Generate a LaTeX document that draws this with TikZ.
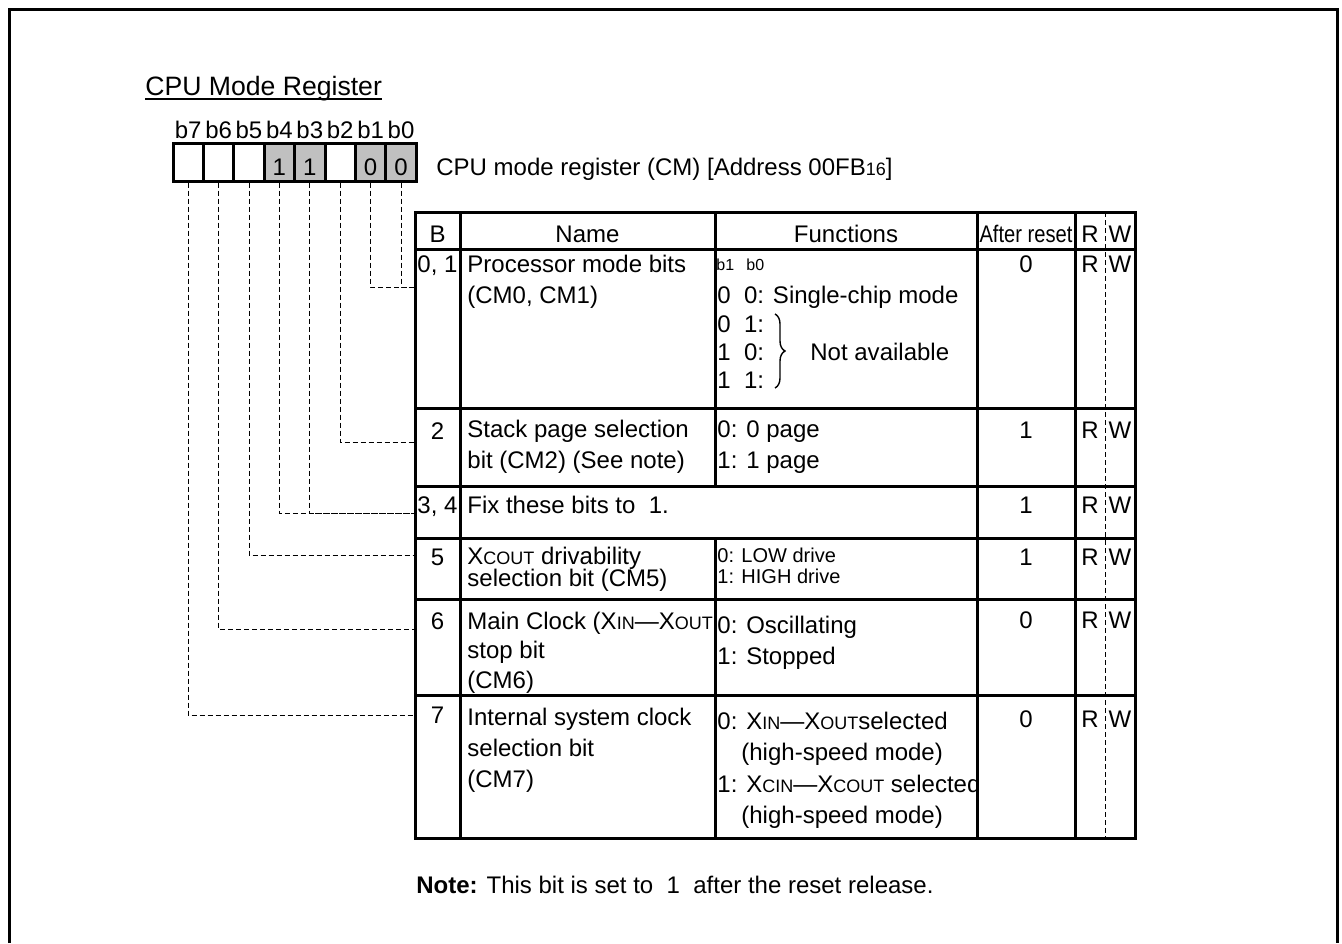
\documentclass[tikz,border=0pt]{standalone}
\usepackage{fontspec}
\setmainfont{Liberation Sans}
\usepackage{graphicx}
\usetikzlibrary{decorations.pathreplacing}
\definecolor{regfill}{RGB}{192,192,192}
\newcommand{\smc}[1]{{\fontsize{9pt}{9pt}\selectfont #1}}

\begin{document}
\begin{tikzpicture}[x=0.5pt, y=-0.5pt,
    every node/.style={font=\fontsize{12pt}{14pt}\selectfont, inner sep=0pt},
    bitbox/.style={draw, line width=1.5pt, minimum width=15.2pt, minimum height=19pt, text height=13pt, text depth=0pt},
    bitset/.style={bitbox, fill=regfill},
    bitlab/.style={anchor=base, yshift=1.5pt},
    grid/.style={line width=1.5pt},
    conn/.style={line width=0.5pt, dash pattern=on 2.5pt off 1.5pt},
    txt/.style={anchor=base west},
    ctr/.style={anchor=base},
    small/.style={anchor=base west, font=\fontsize{8pt}{9pt}\selectfont},
    tight/.style={anchor=base west, font=\fontsize{10pt}{11pt}\selectfont}]
    %--------------------%
    % Parameters
    %--------------------%
    \def\bitx{188.2}
    \def\bitw{30.4}
    \def\bity{162}
    \def\colB{437.5}
    \def\colN{467}
    \def\colF{717}
    \def\colA{1026}
    \def\colR{1090}
    \def\colW{1120}

    \useasboundingbox (0,0) rectangle (1342,943);

    %--------------------%
    % Frame and title
    %--------------------%
    \draw[line width=1.5pt] (9,943) -- (9,9) -- (1337,9) -- (1337,943);
    \node[txt, font=\fontsize{13.3pt}{15pt}\selectfont] (title) at (145,95) {CPU Mode Register};
    \draw[line width=0.75pt] ([yshift=-2pt]title.base west) -- ([yshift=-2pt]title.base east);

    %--------------------%
    % Register bits
    %--------------------%
    \node[bitbox, label={[bitlab]north:b7}] (b7) at (\bitx+0*\bitw,\bity) {};
    \node[bitbox, label={[bitlab]north:b6}] (b6) at (\bitx+1*\bitw,\bity) {};
    \node[bitbox, label={[bitlab]north:b5}] (b5) at (\bitx+2*\bitw,\bity) {};
    \node[bitset, label={[bitlab]north:b4}] (b4) at (\bitx+3*\bitw,\bity) {1};
    \node[bitset, label={[bitlab]north:b3}] (b3) at (\bitx+4*\bitw,\bity) {1};
    \node[bitbox, label={[bitlab]north:b2}] (b2) at (\bitx+5*\bitw,\bity) {};
    \node[bitset, label={[bitlab]north:b1}] (b1) at (\bitx+6*\bitw,\bity) {0};
    \node[bitset, label={[bitlab]north:b0}] (b0) at (\bitx+7*\bitw,\bity) {0};

    \node[txt] (regname) at (436,175) {CPU mode register (CM) [Address 00FB\smc{16}]};

    %--------------------%
    % Table grid
    %--------------------%
    \draw[grid] (415,212) rectangle (1135,838);
    \draw[grid] (415,249) -- (1135,249);
    \draw[grid] (415,408) -- (1135,408);
    \draw[grid] (415,486) -- (1135,486);
    \draw[grid] (415,538) -- (1135,538);
    \draw[grid] (415,599) -- (1135,599);
    \draw[grid] (415,695) -- (1135,695);
    \draw[grid] (460,212) -- (460,838);
    \draw[grid] (715,212) -- (715,486);
    \draw[grid] (715,538) -- (715,838);
    \draw[grid] (977,212) -- (977,838);
    \draw[grid] (1075,212) -- (1075,838);
    \draw[conn] (1105,212) -- (1105,838);

    %--------------------%
    % Header
    %--------------------%
    \node[ctr] (hB) at (\colB,242) {B};
    \node[ctr] (hName) at (587.5,242) {Name};
    \node[ctr] (hFunc) at (846,242) {Functions};
    \node[ctr] (hReset) at (\colA,242) {\scalebox{0.84}[1]{After reset}};
    \node[ctr] (hR) at (\colR,242) {R};
    \node[ctr] (hW) at (\colW,242) {W};

    %--------------------%
    % Bits 0, 1
    %--------------------%
    \node[ctr] (bit01) at (\colB,272) {0, 1};
    \node[txt] (name01a) at (\colN,272) {Processor mode bits};
    \node[txt] (name01b) at (\colN,303) {(CM0, CM1)};
    \node[small] (fb1) at (716,270) {b1};
    \node[small] (fb0) at (746,270) {b0};
    \node[txt] (f01a) at (\colF,303) {0\ \ 0: Single-chip mode};
    \node[txt] (f01b) at (\colF,332) {0\ \ 1:};
    \node[txt] (f01c) at (\colF,360) {1\ \ 0:};
    \node[txt] (f01d) at (\colF,388) {1\ \ 1:};
    \draw[line width=0.7pt, decorate, decoration={brace, amplitude=5pt}] (775,314) -- (775,388);
    \node[txt] (f01e) at (810,360) {Not available};
    \node[ctr] (a01) at (\colA,272) {0};
    \node[ctr] (r01) at (\colR,272) {R};
    \node[ctr] (w01) at (\colW,272) {W};

    %--------------------%
    % Bit 2
    %--------------------%
    \node[ctr] (bit2) at (\colB,439) {2};
    \node[txt] (name2a) at (\colN,437) {Stack page selection};
    \node[txt] (name2b) at (\colN,468) {bit (CM2) (See note)};
    \node[txt] (f2a) at (\colF,437) {0: 0 page};
    \node[txt] (f2b) at (\colF,468) {1: 1 page};
    \node[ctr] (a2) at (\colA,438) {1};
    \node[ctr] (r2) at (\colR,438) {R};
    \node[ctr] (w2) at (\colW,438) {W};

    %--------------------%
    % Bits 3, 4
    %--------------------%
    \node[ctr] (bit34) at (\colB,513) {3, 4};
    \node[txt] (name34) at (\colN,513) {Fix these bits to\ \ 1.};
    \node[ctr] (a34) at (\colA,513) {1};
    \node[ctr] (r34) at (\colR,513) {R};
    \node[ctr] (w34) at (\colW,513) {W};

    %--------------------%
    % Bit 5
    %--------------------%
    \node[ctr] (bit5) at (\colB,565) {5};
    \node[txt] (name5a) at (\colN,564) {X\smc{COUT} drivability};
    \node[txt] (name5b) at (\colN,586) {selection bit (CM5)};
    \node[tight] (f5a) at (\colF,562) {0: LOW drive};
    \node[tight] (f5b) at (\colF,583) {1: HIGH drive};
    \node[ctr] (a5) at (\colA,565) {1};
    \node[ctr] (r5) at (\colR,565) {R};
    \node[ctr] (w5) at (\colW,565) {W};

    %--------------------%
    % Bit 6
    %--------------------%
    \node[ctr] (bit6) at (\colB,629) {6};
    \node[txt] (name6a) at (\colN,629) {Main Clock (X\smc{IN}---X\smc{OUT}};
    \node[txt] (name6b) at (\colN,658) {stop bit};
    \node[txt] (name6c) at (\colN,688) {(CM6)};
    \node[txt] (f6a) at (\colF,633) {0: Oscillating};
    \node[txt] (f6b) at (\colF,664) {1: Stopped};
    \node[ctr] (a6) at (\colA,628) {0};
    \node[ctr] (r6) at (\colR,628) {R};
    \node[ctr] (w6) at (\colW,628) {W};

    %--------------------%
    % Bit 7
    %--------------------%
    \node[ctr] (bit7) at (\colB,723) {7};
    \node[txt] (name7a) at (\colN,725) {Internal system clock};
    \node[txt] (name7b) at (\colN,756) {selection bit};
    \node[txt] (name7c) at (\colN,787) {(CM7)};
    \node[txt] (f7a) at (\colF,729) {0: X\smc{IN}---X\smc{OUT}selected};
    \node[txt] (f7b) at (741,760) {(high-speed mode)};
    \node[txt] (f7c) at (\colF,792) {1: X\smc{CIN}---X\smc{COUT} selected};
    \node[txt] (f7d) at (741,823) {(high-speed mode)};
    \node[ctr] (a7) at (\colA,727) {0};
    \node[ctr] (r7) at (\colR,727) {R};
    \node[ctr] (w7) at (\colW,727) {W};

    %--------------------%
    % Connections
    %--------------------%
    \coordinate (row01) at (415,287);
    \coordinate (row2) at (415,442);
    \coordinate (row34) at (415,513);
    \coordinate (row5) at (415,555);
    \coordinate (row6) at (415,629);
    \coordinate (row7) at (415,715);
    \draw[conn] (b0.south) |- (row01);
    \draw[conn] (b1.south) |- (row01);
    \draw[conn] (b2.south) |- (row2);
    \draw[conn] (b3.south) |- (row34);
    \draw[conn] (b4.south) |- (row34);
    \draw[conn] (b5.south) |- (row5);
    \draw[conn] (b6.south) |- (row6);
    \draw[conn] (b7.south) |- (row7);

    %--------------------%
    % Note
    %--------------------%
    \node[txt] (note) at (416,893) {\textbf{Note:} This bit is set to\ \ 1\ \ after the reset release.};

\end{tikzpicture}
\end{document}
